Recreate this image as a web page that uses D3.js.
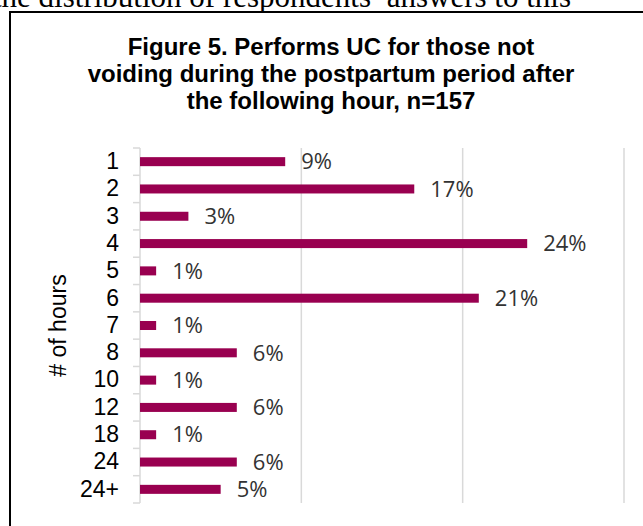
<!DOCTYPE html>
<html>
<head>
<meta charset="utf-8">
<script src="https://cdn.jsdelivr.net/npm/d3@7"></script>
<style>
  html, body { margin: 0; padding: 0; background: #fff; overflow: hidden; }
  svg { display: block; }
</style>
</head>
<body>
<script>
// Hours after which urinary catheterisation is performed (share of respondents, n=157)
const categories = ["1", "2", "3", "4", "5", "6", "7", "8", "10", "12", "18", "24", "24+"];
const percentages = [9, 17, 3, 24, 1, 21, 1, 6, 1, 6, 1, 6, 5];
const gridValues = [0, 10, 20, 30];
const titleLines = [
  "Figure 5. Performs UC for those not",
  "voiding during the postpartum period after",
  "the following hour, n=157"
];
const axisTitle = "# of hours";
const bodyText = "the distribution of respondents\u2019 answers to this";

const W = 643, H = 526;
const plot = { left: 140, right: 624, top: 148, bottom: 503 };

const svg = d3.select("body").append("svg")
  .attr("width", W).attr("height", H);

// running text of the page above the figure
svg.append("text")
  .attr("x", -7).attr("y", 7)
  .attr("font-family", "'Liberation Serif', 'Times New Roman', serif")
  .attr("font-size", 31)
  .attr("fill", "#000")
  .text(bodyText);

// chart frame
svg.append("rect")
  .attr("x", 10).attr("y", 12)
  .attr("width", 700).attr("height", 600)
  .attr("fill", "#fff")
  .attr("stroke", "#000")
  .attr("stroke-width", 2);

// title
const title = svg.append("text")
  .attr("text-anchor", "middle")
  .attr("font-family", "'Liberation Sans', Arial, sans-serif")
  .attr("font-weight", "bold")
  .attr("font-size", 24)
  .attr("fill", "#000");
titleLines.forEach((line, i) => {
  title.append("tspan").attr("x", 331).attr("y", 55 + i * 27).text(line);
});

const x = d3.scaleLinear()
  .domain([0, 30])
  .range([plot.left, plot.right]);

const y = d3.scaleBand()
  .domain(categories)
  .range([plot.top, plot.bottom])
  .paddingInner(0.67)
  .paddingOuter(0.335);

// vertical gridlines (the first one is the category axis line)
svg.append("g")
  .selectAll("line")
  .data(gridValues)
  .join("line")
  .attr("x1", d => x(d)).attr("x2", d => x(d))
  .attr("y1", plot.top).attr("y2", plot.bottom)
  .attr("stroke", "#d9d9d9")
  .attr("stroke-width", 1.5);

// tick marks between categories
const step = y.step();
const boundaries = d3.range(categories.length + 1).map(i => plot.top + i * step);
svg.append("g")
  .selectAll("line")
  .data(boundaries)
  .join("line")
  .attr("x1", x(0) - 7).attr("x2", x(0))
  .attr("y1", d => d).attr("y2", d => d)
  .attr("stroke", "#d9d9d9")
  .attr("stroke-width", 1.5);

// category labels
const yAxis = svg.append("g")
  .attr("transform", `translate(${x(0)},0)`)
  .call(d3.axisLeft(y).tickSize(0).tickPadding(21));
yAxis.select(".domain").remove();
yAxis.selectAll("text")
  .attr("font-family", "'Liberation Sans', Arial, sans-serif")
  .attr("font-size", 23)
  .attr("fill", "#000");

// bars
const rows = categories.map((c, i) => ({ cat: c, value: percentages[i] }));
svg.append("g")
  .selectAll("rect")
  .data(rows)
  .join("rect")
  .attr("x", x(0))
  .attr("y", d => y(d.cat))
  .attr("width", d => x(d.value) - x(0))
  .attr("height", y.bandwidth())
  .attr("fill", "#990050");

// value labels
svg.append("g")
  .selectAll("text")
  .data(rows)
  .join("text")
  .attr("x", d => x(d.value) + 16)
  .attr("y", d => y(d.cat) + y.bandwidth() / 2)
  .attr("dy", "0.35em")
  .attr("font-family", "'Open Sans', 'Noto Sans', sans-serif")
  .attr("font-size", 22)
  .attr("fill", "#333")
  .text(d => d.value + "%");

// axis title
svg.append("text")
  .attr("transform", `translate(66,${(plot.top + plot.bottom) / 2}) rotate(-90)`)
  .attr("text-anchor", "middle")
  .attr("font-family", "'Liberation Sans', Arial, sans-serif")
  .attr("font-size", 23)
  .attr("fill", "#000")
  .text(axisTitle);
</script>
</body>
</html>
